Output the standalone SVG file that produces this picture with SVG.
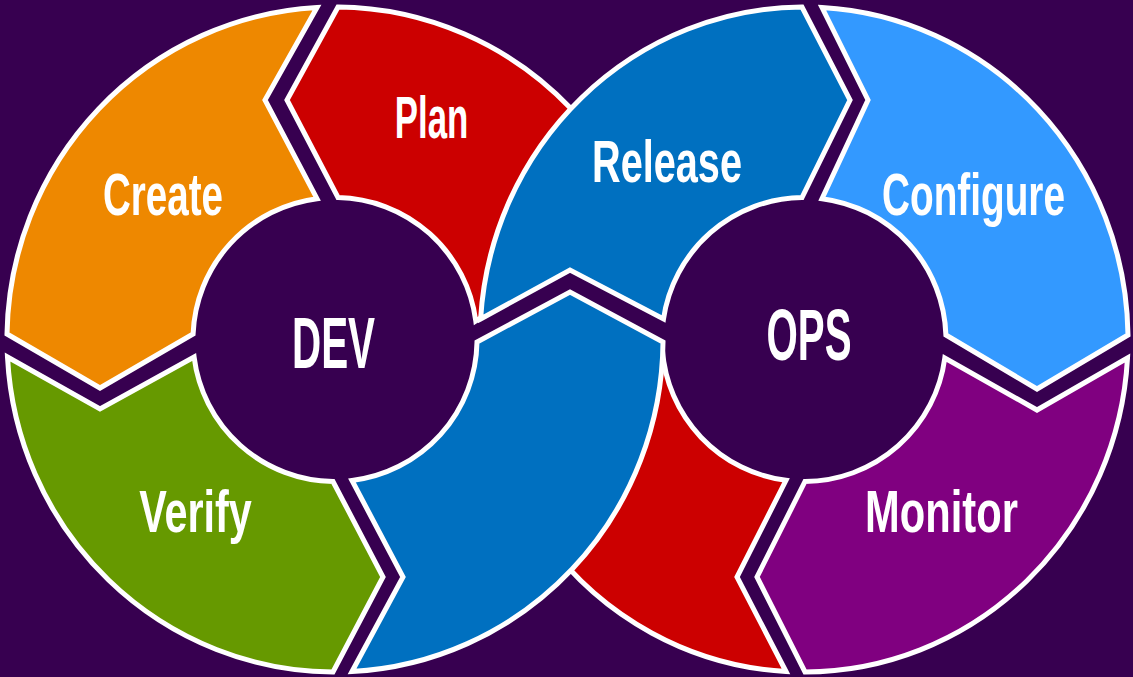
<svg xmlns="http://www.w3.org/2000/svg" width="1133" height="677" viewBox="0 0 1133 677">
<style>
.seg{stroke:#ffffff;stroke-width:5;stroke-linejoin:miter}
.lbl{font-family:"Liberation Sans",Arial,sans-serif;fill:#ffffff;text-anchor:middle;font-size:60px;font-weight:bold}
.big{font-size:72px}
</style>
<rect width="1133" height="677" fill="#370050"/>
<g id="plan">
<path class="seg" fill="#cc0000" d="M338,7 L287,100 L338,197.5 A142,142 0 0 1 475.8,321 L482,317 L575,250 L578,120 L570.9,108.5 A328,332.5 0 0 0 338,7 Z"/>
<text class="lbl" transform="translate(431.5,138) scale(0.58,1)">Plan</text>
</g>
<g id="connectors">
<path id="ops-to-dev" class="seg" fill="#cc0000" d="M786,671.5 L737,577 L786,480.35 A142,142 0 0 1 662.4,350 L600,420 L545.5,540 A324,332.5 0 0 0 786,671.5 Z"/>
<path id="dev-to-ops" class="seg" fill="#0070c0" d="M352,671.5 L403,577 L352,480.5 A142,142 0 0 0 477,342 L570,292 L663,342 A328,332.5 0 0 1 352,671.5 Z"/>
</g>
<g id="create">
<path class="seg" fill="#ee8800" d="M317,7.5 L265,100 L317,198.65 A142,142 0 0 0 193.1,334 L100,388 L7,334 A328,332.5 0 0 1 317,7.5 Z"/>
<text class="lbl" transform="translate(163,215) scale(0.643,1)">Create</text>
</g>
<g id="verify">
<path class="seg" fill="#669900" d="M7.5,357 L100,409 L194.1,357 A142,142 0 0 0 333,481.5 L383,577 L333,672 A328,332.5 0 0 1 7.5,357 Z"/>
<text class="lbl" transform="translate(195.5,532) scale(0.69,1)">Verify</text>
</g>
<g id="release">
<path class="seg" fill="#0070c0" d="M480.6,319 L570,270 L663.5,319 A142,142 0 0 1 802,197.5 L850,100 L802,7 A324,332.5 0 0 0 480.6,319 Z"/>
<text class="lbl" transform="translate(667,182) scale(0.661,1)">Release</text>
</g>
<g id="configure">
<path class="seg" fill="#3399ff" d="M822,7.5 L868,100 L822,198.65 A142,142 0 0 1 945.9,335 L1037,389 L1128,335 A324,332.5 0 0 0 822,7.5 Z"/>
<text class="lbl" transform="translate(973.5,215) scale(0.646,1)">Configure</text>
</g>
<g id="monitor">
<path class="seg" fill="#800080" d="M1127.5,358 L1037,410 L944.8,358 A142,142 0 0 1 805,481.5 L757,577 L805,672 A324,332.5 0 0 0 1127.5,358 Z"/>
<text class="lbl" transform="translate(941.5,532) scale(0.695,1)">Monitor</text>
</g>
<g id="dev">
<text class="lbl big" transform="translate(333.5,368) scale(0.561,1)">DEV</text>
</g>
<g id="ops">
<text class="lbl big" transform="translate(809,360) scale(0.559,1)">OPS</text>
</g>
</svg>
